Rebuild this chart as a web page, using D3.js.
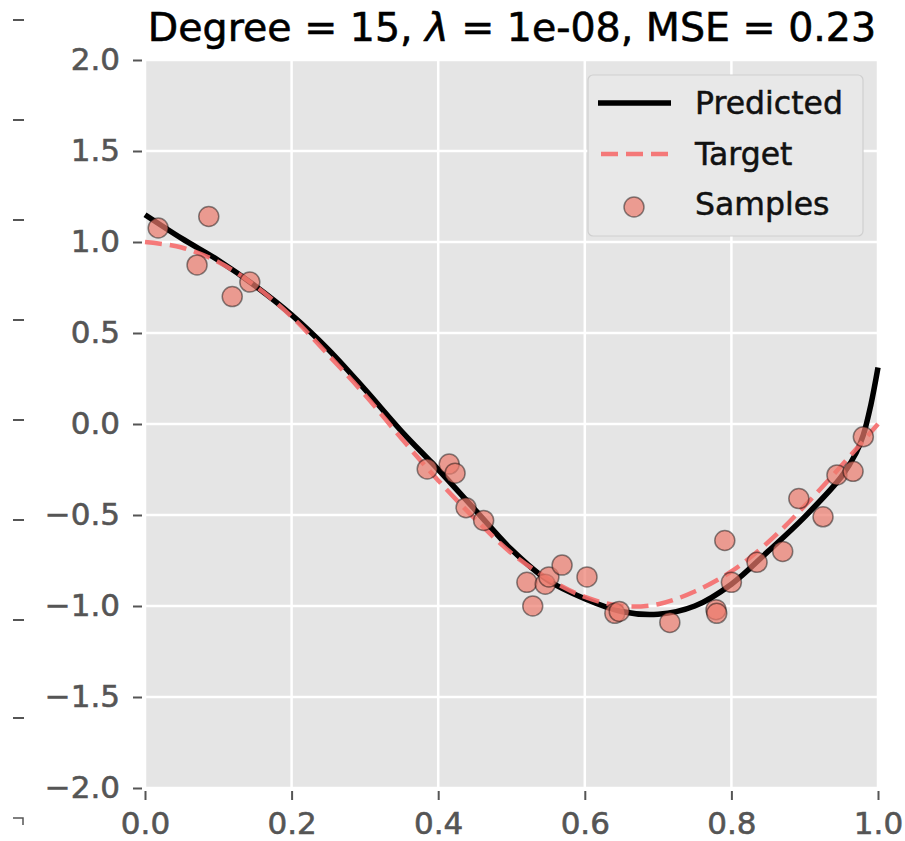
<!DOCTYPE html>
<html>
<head>
<meta charset="utf-8">
<script src="https://cdn.jsdelivr.net/npm/d3@7"></script>
<style>
  body { margin: 0; background: #fff; }
  svg { font-family: "DejaVu Sans", sans-serif; }
</style>
</head>
<body>
<svg id="canvas"></svg>
<script>
// samples
const sampleX = [0.018, 0.071, 0.087, 0.119, 0.143, 0.385, 0.415, 0.423, 0.438, 0.462,
  0.521, 0.529, 0.546, 0.551, 0.569, 0.603, 0.641, 0.647, 0.716, 0.779,
  0.780, 0.791, 0.800, 0.835, 0.870, 0.892, 0.925, 0.944, 0.966, 0.980];
const sampleY = [1.077, 0.874, 1.14, 0.70, 0.78, -0.247, -0.22, -0.27, -0.46, -0.53,
  -0.87, -1.0, -0.88, -0.84, -0.775, -0.84, -1.04, -1.03, -1.09, -1.02,
  -1.04, -0.64, -0.87, -0.76, -0.70, -0.41, -0.51, -0.28, -0.26, -0.07];

const targetX = [0, 0.05, 0.1, 0.15, 0.2, 0.25, 0.3, 0.35, 0.4, 0.45, 0.5,
  0.55, 0.6, 0.65, 0.7, 0.75, 0.8, 0.85, 0.9, 0.95, 1.0];
const targetY = [1.0, 0.97, 0.89, 0.76, 0.59, 0.38, 0.16, -0.08, -0.31, -0.52, -0.71,
  -0.85, -0.95, -1.0, -0.99, -0.92, -0.81, -0.65, -0.45, -0.23, 0.0];

const predX = [0, 0.05, 0.1, 0.15, 0.2, 0.25, 0.3, 0.35, 0.4, 0.45, 0.5,
  0.55, 0.6, 0.65, 0.7, 0.75, 0.8, 0.85, 0.9, 0.95, 0.97, 0.98, 0.99, 1.0];
const predY = [1.15, 1.02, 0.90, 0.76, 0.60, 0.41, 0.19, -0.04, -0.25, -0.47, -0.69,
  -0.86, -0.96, -1.03, -1.045, -1.0, -0.88, -0.70, -0.51, -0.29, -0.16, -0.06, 0.10, 0.31];

const xTicks = [0, 0.2, 0.4, 0.6, 0.8, 1.0];
const yTicks = [-2, -1.5, -1, -0.5, 0, 0.5, 1, 1.5, 2];
const legendLabels = ['Predicted', 'Target', 'Samples'];

const width = 905, height = 841;
const margin = { top: 60, right: 27, bottom: 53, left: 145 };
const svg = d3.select('#canvas').attr('width', width).attr('height', height);

const x = d3.scaleLinear().domain([0, 1]).range([margin.left, width - margin.right]);
const y = d3.scaleLinear().domain([-2, 2]).range([height - margin.bottom, margin.top]);
const fmt = d3.format('.1f');

// stray ticks of a neighbouring axis on the far left
[20, 120, 220, 320, 420, 520, 620, 718].forEach(v => {
  svg.append('line').attr('x1', 13).attr('x2', 24).attr('y1', v).attr('y2', v)
    .attr('stroke', '#555').attr('stroke-width', 2);
});
svg.append('path').attr('d', 'M13,818H23V825').attr('fill', 'none')
  .attr('stroke', '#555').attr('stroke-width', 1.5);

// plot background
svg.append('rect')
  .attr('x', x(0)).attr('y', y(2))
  .attr('width', x(1) - x(0)).attr('height', y(-2) - y(2))
  .attr('fill', '#e5e5e5');

// grid
svg.append('g').selectAll('line').data(xTicks).join('line')
  .attr('x1', d => x(d)).attr('x2', d => x(d))
  .attr('y1', y(2)).attr('y2', y(-2))
  .attr('stroke', '#fff').attr('stroke-width', 2.5);
svg.append('g').selectAll('line').data(yTicks).join('line')
  .attr('x1', x(0)).attr('x2', x(1))
  .attr('y1', d => y(d)).attr('y2', d => y(d))
  .attr('stroke', '#fff').attr('stroke-width', 2.5);

// axes (ticks sit a few px off the plot, as in the reference)
const xAxis = svg.append('g')
  .attr('transform', `translate(0,${y(-2) + 3})`)
  .call(d3.axisBottom(x).tickValues(xTicks).tickFormat(fmt).tickSize(9).tickPadding(12));
const yAxis = svg.append('g')
  .attr('transform', `translate(${x(0) - 3},0)`)
  .call(d3.axisLeft(y).tickValues(yTicks).tickFormat(fmt).tickSize(9).tickPadding(13));
[xAxis, yAxis].forEach(a => {
  a.select('.domain').remove();
  a.selectAll('line').attr('stroke', '#555').attr('stroke-width', 2);
  a.selectAll('text').attr('fill', '#555')
    .attr('stroke', '#555').attr('stroke-width', 0.6)
    .style('font-size', '31px')
    .style('font-family', '"DejaVu Sans", sans-serif');
});

// curves
const line = d3.line().curve(d3.curveCatmullRom.alpha(0.5));
const targetPts = targetX.map((v, i) => [x(v), y(targetY[i])]);
const predPts = predX.map((v, i) => [x(v), y(predY[i])]);

svg.append('path').attr('d', line(predPts))
  .attr('fill', 'none').attr('stroke', '#000').attr('stroke-width', 5.5);
svg.append('path').attr('d', line(targetPts))
  .attr('fill', 'none').attr('stroke', '#f56b6b').attr('stroke-opacity', 0.9)
  .attr('stroke-width', 4.5).attr('stroke-dasharray', '17,8');

// samples
svg.append('g').selectAll('circle').data(sampleX).join('circle')
  .attr('cx', d => x(d))
  .attr('cy', (d, i) => y(sampleY[i]))
  .attr('r', 10)
  .attr('fill', '#ec7a6c').attr('fill-opacity', 0.7)
  .attr('stroke', '#000').attr('stroke-opacity', 0.45).attr('stroke-width', 1.5);

// title
svg.append('text')
  .attr('x', 512).attr('y', 41)
  .attr('text-anchor', 'middle')
  .attr('stroke', '#000').attr('stroke-width', 0.6)
  .style('font-size', '39.5px').attr('fill', '#000')
  .html('Degree = 15, <tspan font-style="italic">λ</tspan> = 1e-08, MSE = 0.23');

// legend
const lg = svg.append('g');
lg.append('rect')
  .attr('x', 588).attr('y', 75).attr('width', 275).attr('height', 161)
  .attr('rx', 5).attr('fill', '#e8e8e8').attr('stroke', '#cfcfcf').attr('stroke-width', 1.2);
lg.append('line').attr('x1', 598).attr('x2', 671).attr('y1', 103).attr('y2', 103)
  .attr('stroke', '#000').attr('stroke-width', 5.5);
lg.append('line').attr('x1', 601).attr('x2', 670).attr('y1', 154).attr('y2', 154)
  .attr('stroke', '#f56b6b').attr('stroke-opacity', 0.9).attr('stroke-width', 4.5)
  .attr('stroke-dasharray', '17,8');
lg.append('circle').attr('cx', 634).attr('cy', 207).attr('r', 10)
  .attr('fill', '#ec7a6c').attr('fill-opacity', 0.7)
  .attr('stroke', '#000').attr('stroke-opacity', 0.45).attr('stroke-width', 1.5);
lg.selectAll('text.lab').data(legendLabels).join('text')
  .attr('class', 'lab')
  .attr('x', 695).attr('y', (d, i) => [114, 165, 215][i])
  .style('font-size', '31.5px').attr('fill', '#111')
  .attr('stroke', '#111').attr('stroke-width', 0.5)
  .text(d => d);
</script>
</body>
</html>
